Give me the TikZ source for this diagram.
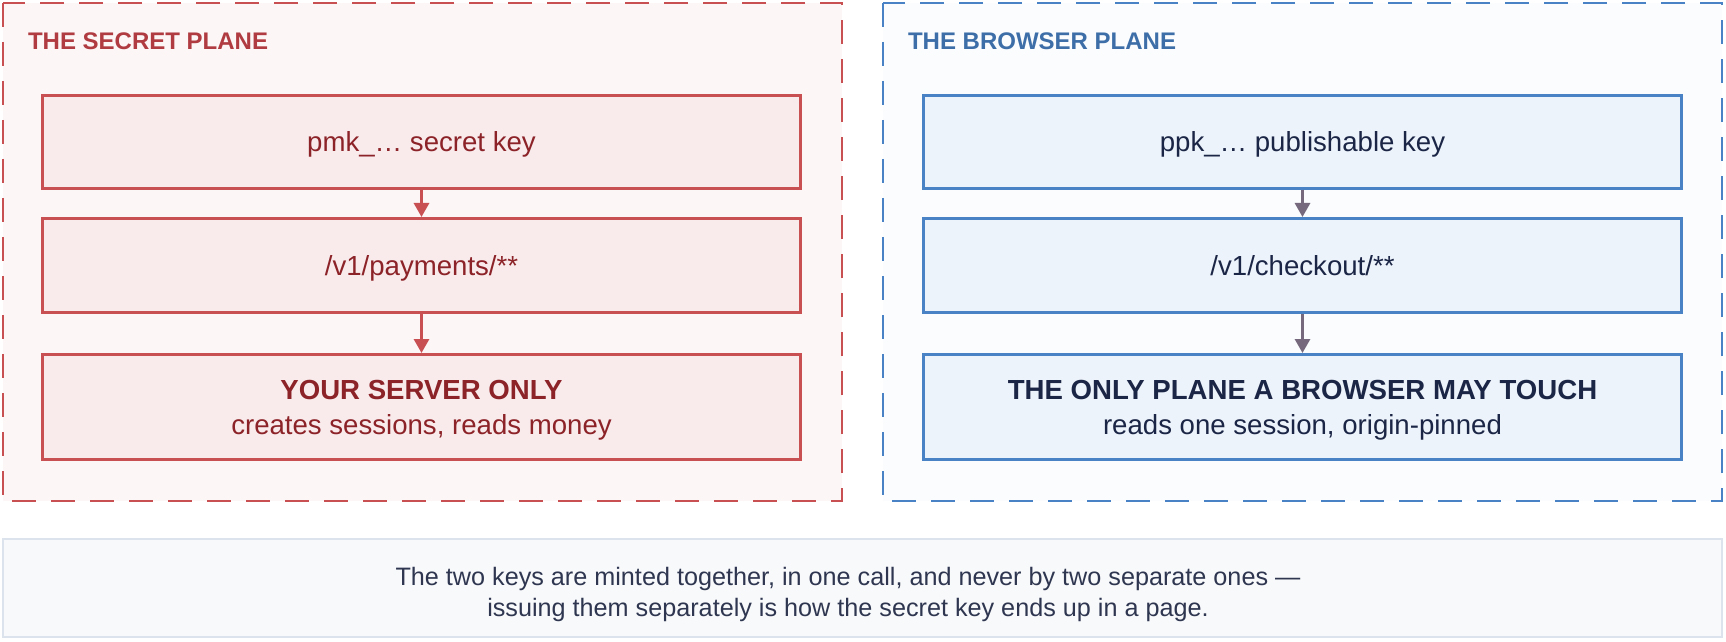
\documentclass[tikz,border=0pt]{standalone}
\usepackage{fontspec}
\setmainfont{Liberation Sans}
\usetikzlibrary{arrows.meta}

\definecolor{secretline}{HTML}{C85052}
\definecolor{secretplane}{HTML}{FCF6F6}
\definecolor{secretfill}{HTML}{F9EBEC}
\definecolor{secrettitle}{HTML}{B03C41}
\definecolor{secrettext}{HTML}{8C2328}
\definecolor{browserline}{HTML}{4A82C6}
\definecolor{browserplane}{HTML}{FAFCFE}
\definecolor{browserfill}{HTML}{ECF3FB}
\definecolor{browsertitle}{HTML}{3D6EA8}
\definecolor{browsertext}{HTML}{1B2545}
\definecolor{browserarrow}{HTML}{76697E}
\definecolor{notefill}{HTML}{F8F9FB}
\definecolor{noteline}{HTML}{DDE3EC}
\definecolor{notetext}{HTML}{2E3650}

\tikzset{
  planebox/.style={line width=1.25pt,dash pattern=on 12pt off 7.5pt},
  planetitle/.style={anchor=base west,font=\fontsize{12}{14}\selectfont\bfseries},
  keybox/.style={draw,line width=1.5pt,minimum width=379pt,align=center,
    text depth=0pt,font=\fontsize{13.8}{17.5}\selectfont},
  secretbox/.style={keybox,fill=secretfill,draw=secretline,text=secrettext},
  browserbox/.style={keybox,fill=browserfill,draw=browserline,text=browsertext},
  flow/.style={line width=1.5pt,-{Triangle[length=7pt,width=7.5pt]}},
}

\begin{document}
\begin{tikzpicture}[x=0.5pt,y=-0.5pt]
  \useasboundingbox (0,0) rectangle (1726,642);
  % the two planes
  \draw[planebox,fill=secretplane,draw=secretline] (3,3) rectangle (842,501);
  \draw[planebox,fill=browserplane,draw=browserline] (883,3) rectangle (1722,501);
  \node[planetitle,text=secrettitle] (stitle) at (21,50) {THE SECRET PLANE};
  \node[planetitle,text=browsertitle] (btitle) at (901,50) {THE BROWSER PLANE};

  % secret side
  \node[secretbox,minimum height=46.5pt] (skey) at (421.5,142) {pmk\_… secret key};
  \node[secretbox,minimum height=47pt] (spay) at (421.5,265.5) {/v1/payments/**};
  \node[secretbox,minimum height=52.5pt] (sserver) at (421.5,407)
    {\textbf{YOUR SERVER ONLY}\\creates sessions, reads money};
  \draw[flow,secretline] (skey) -- (spay);
  \draw[flow,secretline] (spay) -- (sserver);

  % browser side
  \node[browserbox,minimum height=46.5pt] (pkey) at (1302.5,142) {ppk\_… publishable key};
  \node[browserbox,minimum height=47pt] (pcheck) at (1302.5,265.5) {/v1/checkout/**};
  \node[browserbox,minimum height=52.5pt] (pbrowser) at (1302.5,407)
    {\textbf{THE ONLY PLANE A BROWSER MAY TOUCH}\\reads one session, origin-pinned};
  \draw[flow,browserarrow] (pkey) -- (pcheck);
  \draw[flow,browserarrow] (pcheck) -- (pbrowser);

  % note underneath
  \node[draw=noteline,fill=notefill,line width=1pt,minimum width=859.5pt,
    minimum height=49pt] (note) at (862.5,588) {};
  \node[align=center,text=notetext,font=\fontsize{12.6}{15.5}\selectfont]
    (notetxt) at (848,594)
    {The two keys are minted together, in one call, and never by two separate ones —\\
     issuing them separately is how the secret key ends up in a page.};
\end{tikzpicture}
\end{document}
